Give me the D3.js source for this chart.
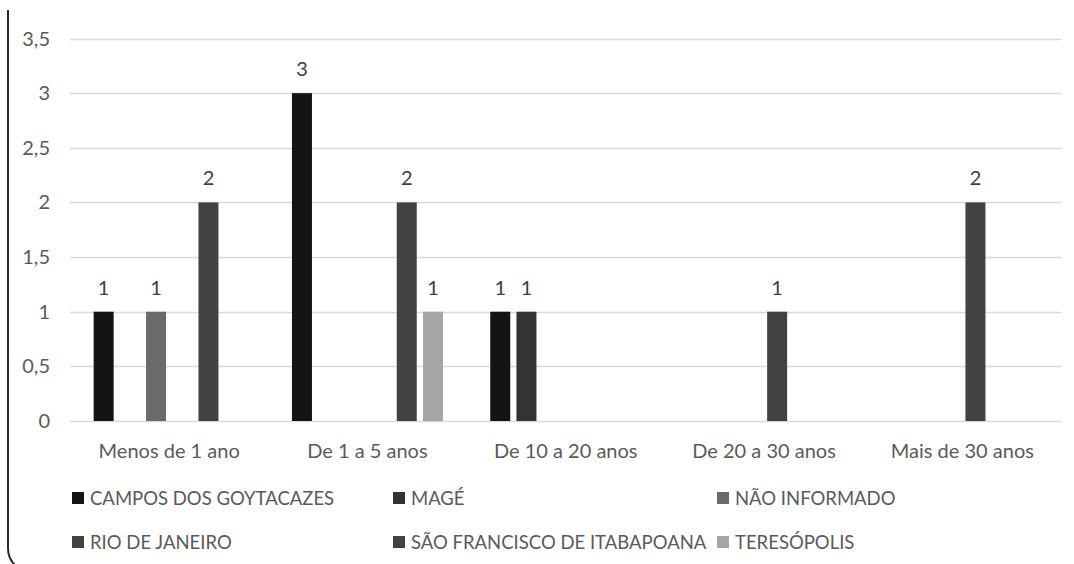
<!DOCTYPE html>
<html><head><meta charset="utf-8">
<script src="https://cdn.jsdelivr.net/npm/d3@7"></script>
<style>body{margin:0;background:#fff}svg{display:block}</style>
</head><body>
<svg id="c" width="1074" height="564"></svg>
<script>
const categories = ["Menos de 1 ano","De 1 a 5 anos","De 10 a 20 anos","De 20 a 30 anos","Mais de 30 anos"];
const seriesNames = ["CAMPOS DOS GOYTACAZES","MAGÉ","NÃO INFORMADO","RIO DE JANEIRO","SÃO FRANCISCO DE ITABAPOANA","TERESÓPOLIS"];
const campos = [1,3,1,0,0];
const mage = [0,0,1,0,0];
const naoInformado = [1,0,0,0,0];
const rio = [0,0,0,1,2];
const saoFrancisco = [2,2,0,0,0];
const teresopolis = [0,1,0,0,0];
const yTicks = [0,0.5,1,1.5,2,2.5,3,3.5];
const colors = ["#141414","#333333","#6a6a6a","#424242","#424242","#a6a6a6"];

const values = [campos, mage, naoInformado, rio, saoFrancisco, teresopolis];
const svg = d3.select("#c");
const font = "Lato, 'Open Sans', sans-serif";
const txt = "#5a5a5a";

const x0 = d3.scaleBand().domain(categories).range([70, 1061.5]);
const step = 26.2;
const pi = 6.2/26.2;
const po = (x0.bandwidth()/step - 6 + pi) / 2;
const x1 = d3.scaleBand().domain(seriesNames).range([0, x0.bandwidth()])
  .paddingInner(pi).paddingOuter(po);
const y = d3.scaleLinear().domain([0,3.5]).range([421, 38.5]);

// frame line at left
svg.append("path").attr("d","M8,10 L8,548 Q8,559 16,566")
  .attr("fill","none").attr("stroke","#2a2a2a").attr("stroke-width",2);

// gridlines
svg.append("g").selectAll("line").data(yTicks).join("line")
  .attr("x1",70).attr("x2",1061.5)
  .attr("y1",d=>Math.round(y(d))+0.5).attr("y2",d=>Math.round(y(d))+0.5)
  .attr("stroke","#d9d9d9").attr("stroke-width",1.3);

// y labels
svg.append("g").selectAll("text").data(yTicks).join("text")
  .attr("x",50).attr("y",d=>y(d)).attr("dy","0.35em")
  .attr("text-anchor","end").attr("font-family",font).attr("font-size",20).attr("fill",txt)
  .text(d=>String(d).replace(".",","));

// bars
const data = [];
categories.forEach((c,ci)=>seriesNames.forEach((s,si)=>{
  if (values[si][ci] > 0) data.push({c, s, si, v: values[si][ci]});
}));
svg.append("g").selectAll("rect").data(data).join("rect")
  .attr("x",d=>x0(d.c)+x1(d.s)).attr("width",x1.bandwidth())
  .attr("y",d=>y(d.v)).attr("height",d=>y(0)-y(d.v))
  .attr("fill",d=>colors[d.si]);

// data labels
svg.append("g").selectAll("text").data(data).join("text")
  .attr("x",d=>x0(d.c)+x1(d.s)+x1.bandwidth()/2).attr("y",d=>y(d.v)-17)
  .attr("text-anchor","middle").attr("font-family",font).attr("font-size",20).attr("fill","#404040")
  .text(d=>d.v);

// x labels
svg.append("g").selectAll("text").data(categories).join("text")
  .attr("x",d=>x0(d)+x0.bandwidth()/2).attr("y",458)
  .attr("text-anchor","middle").attr("font-family",font).attr("font-size",20).attr("fill",txt)
  .text(d=>d);

// legend
const legX = [72, 393, 717];
const legItems = seriesNames.map((s,i)=>({s,i,x:legX[i%3],y: i<3?498:542}));
const lg = svg.append("g").selectAll("g").data(legItems).join("g");
lg.append("rect").attr("x",d=>d.x).attr("y",d=>d.y-6).attr("width",12).attr("height",12)
  .attr("fill",d=>colors[d.i]);
lg.append("text").attr("x",d=>d.x+18).attr("y",d=>d.y).attr("dy","0.36em")
  .attr("font-family",font).attr("font-size",18.5).attr("fill",txt).text(d=>d.s);
</script>
</body></html>
